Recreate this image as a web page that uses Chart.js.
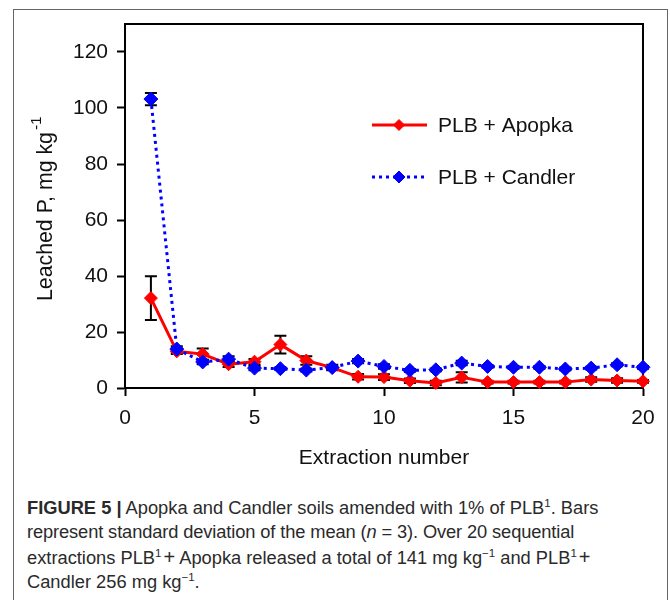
<!DOCTYPE html>
<html><head><meta charset="utf-8">
<script src="https://cdn.jsdelivr.net/npm/chart.js@4"></script>
<style>
html,body{margin:0;padding:0;background:#fff;}
#wrap{position:relative;width:670px;height:600px;overflow:hidden;background:#fff;}
#frame{position:absolute;left:13px;top:9px;width:653px;height:640px;border:1px solid #666;}
#c{position:absolute;left:0;top:0;}
#cap{position:absolute;left:27px;top:496px;width:640px;font-family:'Liberation Sans',Arial,sans-serif;font-size:18.3px;line-height:24.3px;color:#2a2a2a;white-space:nowrap;}
#cap sup{font-size:11.5px;line-height:0;vertical-align:7px;}
#cap .pl{margin-left:2px;font-size:20px;}
#cap .l2{letter-spacing:-0.12px;}
</style></head>
<body>
<div id="wrap">
<div id="frame"></div>
<canvas id="c" width="670" height="480"></canvas>
<div id="cap"><b>FIGURE 5 |</b> Apopka and Candler soils amended with 1% of PLB<sup>1</sup>. Bars<br><span class="l2">represent standard deviation of the mean (<i>n</i> = 3). Over 20 sequential</span><br>extractions PLB<sup>1</sup><span class="pl">+</span> Apopka released a total of 141 mg kg<sup>−1</sup> and PLB<sup>1</sup><span class="pl">+</span><br>Candler 256 mg kg<sup>−1</sup>.</div>
</div>
<script>
const extraction = [1,2,3,4,5,6,7,8,9,10,11,12,13,14,15,16,17,18,19,20];
const apopka  = [32.1,13.1,12.1,8.5,9.4,15.5,9.8,7.3,4.0,3.9,2.6,1.8,3.8,2.1,2.1,2.1,2.1,3.0,2.7,2.4];
const apopkaSD = [7.8,1.0,2.0,1.0,1.0,3.2,1.5,1.0,1.0,1.0,0.8,0.8,1.8,0.5,0.5,0.5,0.5,0.8,0.8,0.5];
const candler = [103.2,13.9,9.3,10.3,7.1,6.9,6.4,7.3,9.6,7.7,6.3,6.5,8.9,7.7,7.4,7.4,6.8,7.1,8.3,7.4];
const candlerSD = [2.2,1.0,0.8,1.0,0.8,0.5,0.5,0.5,0.8,0.8,0.5,0.5,0.8,0.5,0.5,0.5,0.5,0.5,0.5,0.5];
const xTicks = [0,5,10,15,20];
const yTicks = [0,20,40,60,80,100,120];
const seriesNames = ['PLB + Apopka','PLB + Candler'];
const xTitle = 'Extraction number';
const yTitle = 'Leached P, mg kg';
const yTitleSup = '-1';

const FONT = "'Liberation Sans', Arial, sans-serif";
const toPts = (xs, ys) => xs.map((x,i)=>({x, y: ys[i]}));
const sdSets = [apopkaSD, candlerSD];

const errorBars = {
  id:'errorBars',
  beforeDatasetsDraw(chart){
    const ctx = chart.ctx, xs = chart.scales.x, ys = chart.scales.y;
    ctx.save();
    ctx.strokeStyle = '#000'; ctx.lineWidth = 2;
    chart.data.datasets.forEach((ds, di)=>{
      const sd = sdSets[di];
      ds.data.forEach((p,i)=>{
        const px = xs.getPixelForValue(p.x);
        const top = ys.getPixelForValue(p.y + sd[i]);
        const bot = ys.getPixelForValue(p.y - sd[i]);
        ctx.beginPath();
        ctx.moveTo(px, top); ctx.lineTo(px, bot);
        ctx.moveTo(px-6, top); ctx.lineTo(px+6, top);
        ctx.moveTo(px-6, bot); ctx.lineTo(px+6, bot);
        ctx.stroke();
      });
    });
    ctx.restore();
  }
};

const decor = {
  id:'decor',
  beforeDatasetsDraw(chart){
    const ctx = chart.ctx, a = chart.chartArea;
    ctx.save();
    ctx.strokeStyle = '#000'; ctx.lineWidth = 2;
    ctx.beginPath();
    ctx.moveTo(a.left, a.top); ctx.lineTo(a.right, a.top); ctx.lineTo(a.right, a.bottom);
    ctx.stroke();
    ctx.restore();
  },
  afterDraw(chart){
    const ctx = chart.ctx, a = chart.chartArea;
    ctx.save();
    // legend
    const items = [
      {y:125, color:'#ff0000', dash:[], r:5.5},
      {y:177, color:'#0000ff', dash:[3,4], r:6}
    ];
    items.forEach((it, k)=>{
      ctx.save();
      ctx.strokeStyle = it.color; ctx.lineWidth = 3; ctx.setLineDash(it.dash);
      ctx.beginPath(); ctx.moveTo(372, it.y); ctx.lineTo(427, it.y); ctx.stroke();
      ctx.restore();
      ctx.fillStyle = it.color; ctx.strokeStyle = it.color; ctx.lineWidth = 1;
      Chart.helpers.drawPoint(ctx, {pointStyle:'rectRot', radius:it.r, rotation:0, borderWidth:1}, 399, it.y);
      ctx.fillStyle = '#111';
      ctx.font = '21px ' + FONT;
      ctx.textAlign = 'left'; ctx.textBaseline = 'middle';
      ctx.fillText(seriesNames[k], 438, it.y + 1);
    });
    // x title
    ctx.fillStyle = '#111';
    ctx.font = '21px ' + FONT;
    ctx.textAlign = 'center'; ctx.textBaseline = 'middle';
    ctx.fillText(xTitle, (a.left + a.right)/2, 458);
    // y title
    ctx.save();
    ctx.translate(46, 301);
    ctx.rotate(-Math.PI/2);
    ctx.textAlign = 'left'; ctx.textBaseline = 'middle';
    ctx.font = '21.3px ' + FONT;
    ctx.fillText(yTitle, 0, 0);
    const w = ctx.measureText(yTitle).width;
    ctx.font = '15.5px ' + FONT;
    ctx.fillText(yTitleSup, w + 2, -9);
    ctx.restore();
    ctx.restore();
  }
};

new Chart(document.getElementById('c'), {
  type:'line',
  data:{
    datasets:[
      {label:seriesNames[0], data:toPts(extraction, apopka), borderColor:'#ff0000', backgroundColor:'#ff0000',
       borderWidth:3, pointStyle:'rectRot', pointRadius:6.5, pointBorderWidth:1, pointBorderColor:'#ff0000', pointBackgroundColor:'#ff0000', order:2, tension:0, clip:false},
      {label:seriesNames[1], data:toPts(extraction, candler), borderColor:'#0000ff', backgroundColor:'#0000ff',
       borderWidth:3, borderDash:[3,4], pointStyle:'rectRot', pointRadius:7, pointBorderWidth:1, pointBorderColor:'#0000ff', pointBackgroundColor:'#0000ff', order:1, tension:0, clip:false}
    ]
  },
  options:{
    responsive:false, animation:false,
    layout:{padding:{left:0, top:24, right:27, bottom:0}},
    plugins:{legend:{display:false}, tooltip:{enabled:false}},
    scales:{
      x:{type:'linear', min:0, max:20,
        afterBuildTicks(s){ s.ticks = xTicks.map(v=>({value:v})); },
        afterFit(s){ s.height = 92; },
        ticks:{font:{size:21, family:FONT}, color:'#111', padding:10, maxRotation:0},
        grid:{drawOnChartArea:false, drawTicks:true, tickLength:8, tickColor:'#000', tickWidth:2},
        border:{color:'#000', width:2}
      },
      y:{type:'linear', min:0, max:130,
        afterBuildTicks(s){ s.ticks = yTicks.map(v=>({value:v})); },
        afterFit(s){ s.width = 125; },
        ticks:{font:{size:21, family:FONT}, color:'#111', padding:9},
        grid:{drawOnChartArea:false, drawTicks:true, tickLength:8, tickColor:'#000', tickWidth:2},
        border:{color:'#000', width:2}
      }
    }
  },
  plugins:[errorBars, decor]
});
</script>
</body></html>
